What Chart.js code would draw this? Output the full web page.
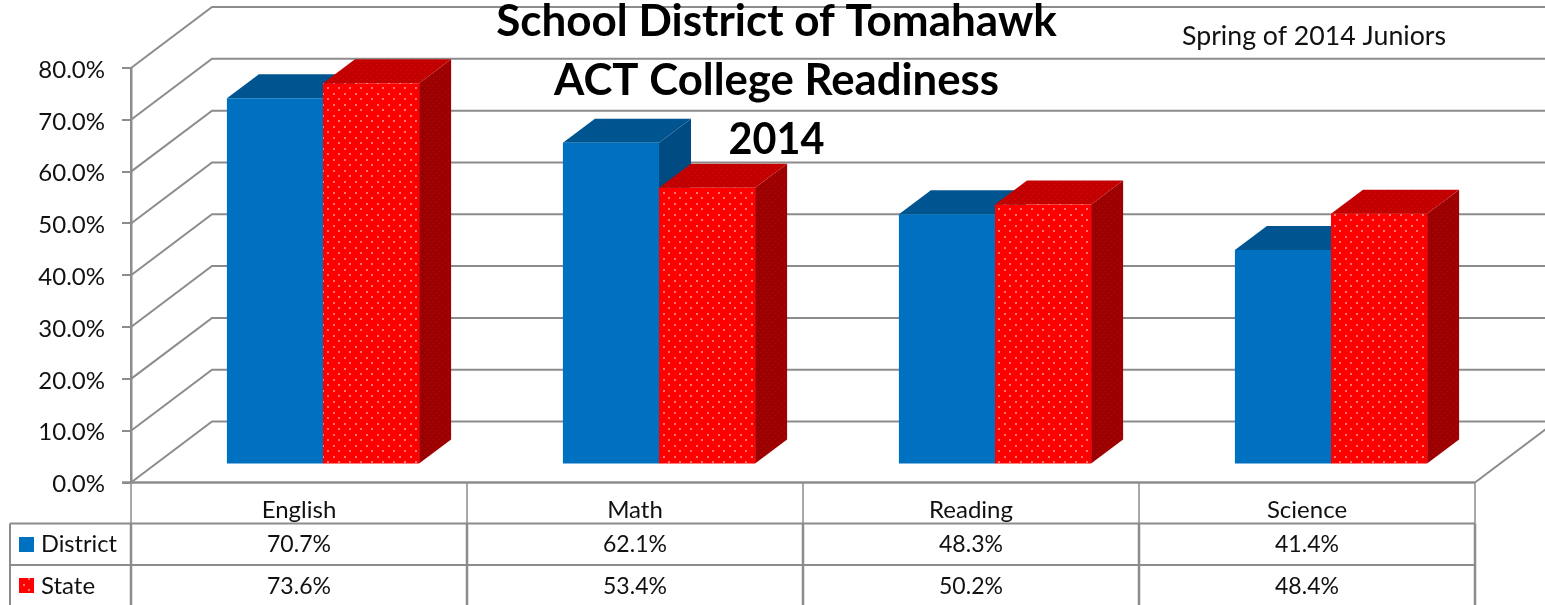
<!DOCTYPE html>
<html>
<head>
<meta charset="utf-8">
<style>
  html, body { margin: 0; padding: 0; background: #fff; overflow: hidden; }
  canvas { display: block; }
</style>
<script src="https://cdn.jsdelivr.net/npm/chart.js@4"></script>
</head>
<body>
<canvas id="chart" width="1545" height="605"></canvas>
<script>
const categories = ["English", "Math", "Reading", "Science"];
const district = [70.7, 62.1, 48.3, 41.4];
const state = [73.6, 53.4, 50.2, 48.4];
const titleLines = ["School District of Tomahawk", "ACT College Readiness", "2014"];
const subtitle = "Spring of 2014 Juniors";

const FONT = "Lato, 'Open Sans', sans-serif";
const GREY = "#8c8c8c";
const TEXT = "#111";

// dotted fill used for the red bar faces
function dots(base, dot, size, d) {
  const c = document.createElement("canvas");
  c.width = size;
  c.height = size;
  const g = c.getContext("2d");
  g.fillStyle = base;
  g.fillRect(0, 0, size, size);
  g.fillStyle = dot;
  g.fillRect(1, 1, d, d);
  g.fillRect(1 + Math.floor(size / 2), 1 + Math.floor(size / 2), d, d);
  return g.createPattern(c, "repeat");
}

const ctx0 = document.getElementById("chart").getContext("2d");
const redFront = dots("#ff0000", "rgba(255,165,165,0.7)", 11, 2);
const redTop = dots("#c20000", "rgba(225,50,50,0.35)", 6, 1);
const redSide = dots("#9c0000", "rgba(190,30,30,0.45)", 6, 1);

// depth of the 3D box, the bars stand in the middle of it
const wall = { dx: 81, dy: -61 };
const barShift = { dx: 24, dy: -18 };
const barDepth = { dx: 32, dy: -24 };

function poly(ctx, pts, fill) {
  ctx.beginPath();
  pts.forEach((p, i) => (i ? ctx.lineTo(p[0], p[1]) : ctx.moveTo(p[0], p[1])));
  ctx.closePath();
  ctx.fillStyle = fill;
  ctx.fill();
}

const box3d = {
  id: "box3d",
  beforeDatasetsDraw(chart) {
    const { ctx, scales, chartArea } = chart;
    const y = scales.y;
    ctx.save();
    ctx.strokeStyle = GREY;
    ctx.lineWidth = 2;
    y.ticks.forEach(t => {
      const py = y.getPixelForValue(t.value);
      ctx.beginPath();
      ctx.moveTo(chartArea.left, py);
      ctx.lineTo(chartArea.left + wall.dx, py + wall.dy);
      ctx.lineTo(chart.width, py + wall.dy);
      ctx.stroke();
    });
    // floor, right side
    ctx.beginPath();
    ctx.moveTo(chartArea.right, chartArea.bottom);
    ctx.lineTo(chartArea.right + wall.dx, chartArea.bottom + wall.dy);
    ctx.stroke();
    ctx.restore();

    // District has to go under State, so draw the two in that order here
    ctx.save();
    ctx.translate(barShift.dx, barShift.dy);
    [0, 1].forEach(i => {
      const meta = chart.getDatasetMeta(i);
      const top = i ? redTop : "#005590";
      const side = i ? redSide : "#004c82";
      const dx = barDepth.dx, dy = barDepth.dy;
      meta.data.forEach(b => {
        const l = b.x - b.width / 2, r = b.x + b.width / 2;
        poly(ctx, [[r, b.y], [r + dx, b.y + dy], [r + dx, b.base + dy], [r, b.base]], side);
        poly(ctx, [[l, b.y], [l + dx, b.y + dy], [r + dx, b.y + dy], [r, b.y]], top);
      });
      meta.controller.draw();
    });
    ctx.restore();
    return false;
  },
  afterDraw(chart) {
    const { ctx, scales, chartArea } = chart;
    const x = scales.x;
    const left = chartArea.left, right = chartArea.right, base = chartArea.bottom;
    const rows = [{ y: 523.5, name: "District", color: "#0070c0", values: district },
                  { y: 565, name: "State", color: redFront, values: state }];
    const step = x.getPixelForValue(1) - x.getPixelForValue(0);

    ctx.save();
    // data table lines
    ctx.strokeStyle = "#a8a8a8";
    ctx.lineWidth = 2;
    categories.concat([""]).forEach((c, i) => {
      const px = Math.round(x.getPixelForValue(0) - step / 2 + i * step);
      ctx.beginPath();
      ctx.moveTo(px, base);
      ctx.lineTo(px, rows[0].y);
      ctx.stroke();
    });
    ctx.strokeStyle = GREY;
    ctx.lineWidth = 2.5;
    ctx.beginPath();
    ctx.moveTo(left - 9, base);
    ctx.lineTo(right, base);
    ctx.stroke();
    ctx.lineWidth = 2;
    rows.forEach(r => {
      ctx.beginPath();
      ctx.moveTo(10, r.y);
      ctx.lineTo(right, r.y);
      ctx.stroke();
    });
    ctx.lineWidth = 2.5;
    categories.concat([""]).forEach((c, i) => {
      const px = Math.round(x.getPixelForValue(0) - step / 2 + i * step);
      ctx.beginPath();
      ctx.moveTo(px, rows[0].y);
      ctx.lineTo(px, chart.height);
      ctx.stroke();
    });
    ctx.lineWidth = 2;
    ctx.beginPath();
    ctx.moveTo(10, rows[0].y);
    ctx.lineTo(10, chart.height);
    ctx.stroke();

    // table text
    ctx.textBaseline = "middle";
    ctx.fillStyle = TEXT;
    ctx.font = "24px " + FONT;
    rows.forEach((r, ri) => {
      const cy = r.y + 21;
      ctx.fillStyle = r.color;
      ctx.fillRect(19, Math.round(cy - 8), 15, 15);
      ctx.fillStyle = TEXT;
      ctx.textAlign = "left";
      ctx.fillText(r.name, 41, cy, ri ? 55 : 76);
      ctx.textAlign = "center";
      r.values.forEach((v, i) => ctx.fillText(v.toFixed(1) + "%", x.getPixelForValue(i), cy, 64));
    });

    // titles sit on top of everything
    ctx.font = "bold 44px " + FONT;
    ctx.textAlign = "center";
    ctx.fillStyle = "#000";
    const widths = [563, 445, 96];
    titleLines.forEach((t, i) => ctx.fillText(t, 776.5, 22 + i * 59, widths[i]));
    ctx.font = "26.7px " + FONT;
    ctx.fillStyle = TEXT;
    ctx.textAlign = "left";
    ctx.fillText(subtitle, 1182, 36, 264);
    ctx.restore();
  }
};

new Chart(ctx0, {
  type: "bar",
  data: {
    labels: categories,
    datasets: [
      { label: "District", data: district, backgroundColor: "#0070c0" },
      { label: "State", data: state, backgroundColor: redFront }
    ]
  },
  options: {
    responsive: false,
    animation: false,
    events: [],
    layout: { padding: { left: 0, right: 70, top: 68, bottom: 0 } },
    datasets: { bar: { categoryPercentage: 0.572, barPercentage: 1, clip: false } },
    plugins: { legend: { display: false }, title: { display: false }, tooltip: { enabled: false } },
    scales: {
      x: {
        afterFit: s => { s.height = 122.5; },
        grid: { display: false },
        border: { display: false },
        ticks: { color: TEXT, font: { family: FONT, size: 24 }, padding: 5, maxRotation: 0 }
      },
      y: {
        min: 0,
        max: 80,
        afterFit: s => { s.width = 131; },
        grid: { drawOnChartArea: false, color: GREY, lineWidth: 2, tickLength: 9 },
        border: { color: GREY, width: 2.5 },
        ticks: {
          stepSize: 10,
          color: TEXT,
          font: { family: FONT, size: 24 },
          padding: 17,
          labelOffset: 2,
          callback: v => v.toFixed(1) + "%"
        }
      }
    }
  },
  plugins: [box3d]
});
</script>
</body>
</html>
